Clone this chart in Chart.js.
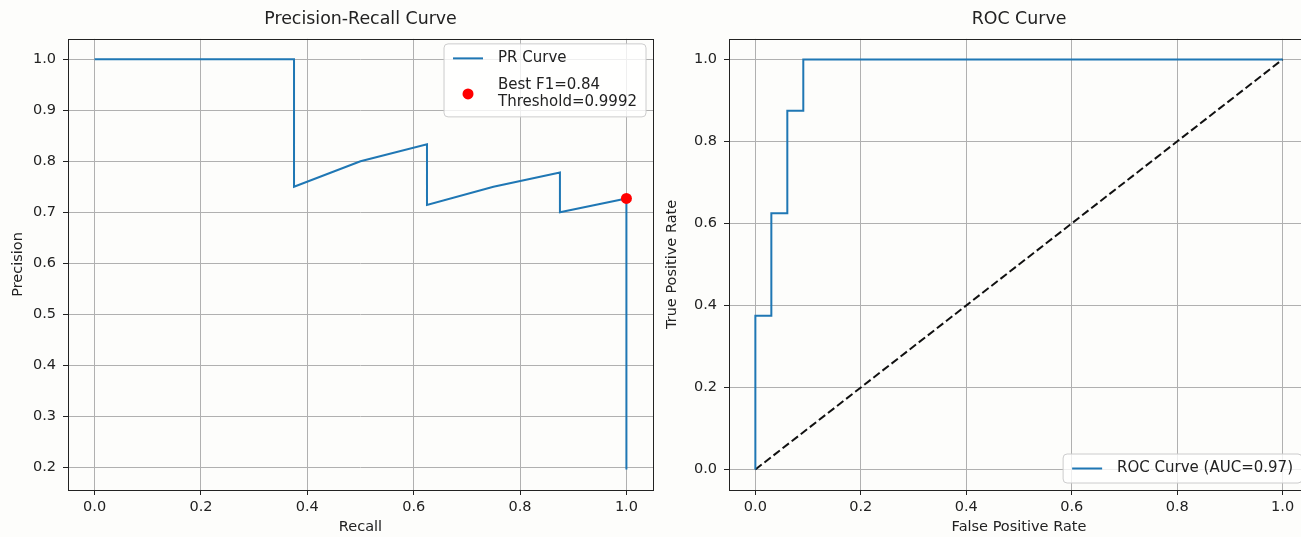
<!DOCTYPE html>
<html>
<head>
<meta charset="utf-8">
<script src="https://cdn.jsdelivr.net/npm/chart.js@4.4.1/dist/chart.umd.min.js"></script>
<style>
  html, body { margin: 0; padding: 0; background: #fdfdfb; overflow: hidden; width: 1301px; height: 537px; }
  canvas { position: absolute; top: 0; }
  #prChart { left: 0; }
  #rocChart { left: 660px; }
</style>
</head>
<body>
<canvas id="prChart" width="665" height="537"></canvas>
<canvas id="rocChart" width="655" height="537"></canvas>
<script>
// PR curve (recall, precision), in plotted order
const prRecall = [0, 0.125, 0.25, 0.375, 0.375, 0.5, 0.625, 0.625, 0.75, 0.875, 0.875, 1.0, 1.0]
const prPrecision = [1, 1, 1, 1, 0.75, 0.8, 0.833, 0.714, 0.75, 0.778, 0.7, 0.727, 0.195]
const bestRecall = [1.0]
const bestPrecision = [0.727]
const prXTicks = [0, 0.2, 0.4, 0.6, 0.8, 1.0]
const prYTicks = [0.2, 0.3, 0.4, 0.5, 0.6, 0.7, 0.8, 0.9, 1.0]

// ROC curve
const rocFpr = [0, 0, 0.0303, 0.0303, 0.0606, 0.0606, 0.0909, 0.0909, 1.0]
const rocTpr = [0, 0.375, 0.375, 0.625, 0.625, 0.875, 0.875, 1.0, 1.0]
const diagX = [0, 1]
const diagY = [0, 1]
const rocTicks = [0, 0.2, 0.4, 0.6, 0.8, 1.0]

const FONT = '"DejaVu Sans", sans-serif'
const blue = '#1f77b4'

const pts = (xs, ys) => xs.map((x, i) => ({x: x, y: ys[i]}))

// box around the plot area (matplotlib spines)
const frame = {
  id: 'frame',
  afterDatasetsDraw(chart) {
    const c = chart.ctx, a = chart.chartArea
    c.save()
    c.strokeStyle = '#222'
    c.lineWidth = 1
    c.strokeRect(Math.round(a.left) + 0.5, Math.round(a.top) + 0.5, Math.round(a.right - a.left), Math.round(a.bottom - a.top))
    c.restore()
  }
}

// legend drawn inside the plot, like matplotlib
const legendBox = {
  id: 'legendBox',
  afterDatasetsDraw(chart, args, opts) {
    const c = chart.ctx, a = chart.chartArea
    const items = chart.data.datasets.filter(d => d.label).map(d => ({
      lines: d.label.split('\n'), isLine: d.showLine, color: d.borderColor || d.backgroundColor, dash: d.borderDash
    }))
    c.save()
    c.font = '15px ' + FONT
    const lh = 17, gap = 10, pad = 6
    let w = 0, h = pad * 2
    items.forEach(it => {
      it.lines.forEach(t => { w = Math.max(w, c.measureText(t).width) })
      h += it.lines.length * lh
    })
    h += (items.length - 1) * gap
    const bw = 9 + 30 + 15 + w + 9
    const x = a.right - 7 - bw
    const y = opts.pos === 'top' ? a.top + 5 : a.bottom - 7 - h
    c.beginPath()
    c.roundRect(x, y, bw, h, 4)
    c.fillStyle = 'rgba(255,255,255,0.8)'
    c.fill()
    c.strokeStyle = '#cccccc'
    c.lineWidth = 1
    c.stroke()
    let cy = y + pad
    items.forEach(it => {
      const rh = it.lines.length * lh
      const mid = cy + rh / 2
      if (it.isLine) {
        c.beginPath()
        c.setLineDash(it.dash || [])
        c.strokeStyle = it.color
        c.lineWidth = 2
        c.moveTo(x + 9, mid)
        c.lineTo(x + 39, mid)
        c.stroke()
        c.setLineDash([])
      } else {
        c.beginPath()
        c.arc(x + 24, mid, 5.5, 0, Math.PI * 2)
        c.fillStyle = it.color
        c.fill()
      }
      c.fillStyle = '#222'
      c.textBaseline = 'middle'
      it.lines.forEach((t, i) => c.fillText(t, x + 54, cy + lh * i + lh / 2))
      cy += rh + gap
    })
    c.restore()
  }
}

function axis(min, max, ticks, title, fit, titlePad, tickPad) {
  const s = {
    type: 'linear',
    min: min,
    max: max,
    afterBuildTicks: sc => { sc.ticks = ticks.map(v => ({value: v})) },
    afterFit: fit,
    border: {display: false},
    grid: {color: '#b0b0b0', lineWidth: 1, tickColor: '#222', tickLength: 5, drawTicks: true},
    ticks: {
      color: '#222', font: {family: FONT, size: 14.5}, padding: tickPad,
      autoSkip: false, maxRotation: 0,
      callback: v => v.toFixed(1)
    },
    title: {display: true, text: title, color: '#222', font: {family: FONT, size: 14.5}, padding: titlePad}
  }
  return s
}

function baseOptions(titleText, legendPos) {
  return {
    responsive: false,
    animation: false,
    layout: {padding: {left: 0, right: 0, top: 0, bottom: 0}},
    plugins: {
      legend: {display: false},
      tooltip: {enabled: false},
      title: {
        display: true, text: titleText, fullSize: false, color: '#222',
        font: {family: FONT, size: 17.4, weight: 'normal'},
        padding: {top: 9, bottom: 9}
      },
      legendBox: {pos: legendPos}
    }
  }
}

const prOpts = baseOptions('Precision-Recall Curve', 'top')
prOpts.layout.padding.right = 12
prOpts.scales = {
  x: axis(-0.05, 1.05, prXTicks, 'Recall', s => { s.height = 47 }, {top: 0, bottom: 1}, 4),
  y: axis(0.155, 1.04, prYTicks, 'Precision', s => { s.width = 68 }, {top: 10, bottom: 0}, 7)
}

new Chart(document.getElementById('prChart'), {
  type: 'scatter',
  data: {
    datasets: [{
      label: 'PR Curve',
      data: pts(prRecall, prPrecision),
      showLine: true,
      borderColor: blue,
      borderWidth: 2,
      pointRadius: 0,
      order: 1
    }, {
      label: 'Best F1=0.84\nThreshold=0.9992',
      data: pts(bestRecall, bestPrecision),
      showLine: false,
      backgroundColor: 'red',
      borderWidth: 0,
      pointRadius: 5.5,
      order: 0
    }]
  },
  options: prOpts,
  plugins: [frame, legendBox]
})

const rocOpts = baseOptions('ROC Curve', 'bottom')
rocOpts.layout.padding.right = 6
rocOpts.scales = {
  x: axis(-0.05, 1.05, rocTicks, 'False Positive Rate', s => { s.height = 47 }, {top: 0, bottom: 1}, 4),
  y: axis(-0.05, 1.05, rocTicks, 'True Positive Rate', s => { s.width = 69 }, {top: 4, bottom: 0}, 7)
}

new Chart(document.getElementById('rocChart'), {
  type: 'scatter',
  data: {
    datasets: [{
      label: 'ROC Curve (AUC=0.97)',
      data: pts(rocFpr, rocTpr),
      showLine: true,
      borderColor: blue,
      borderWidth: 2,
      pointRadius: 0
    }, {
      data: pts(diagX, diagY),
      showLine: true,
      borderColor: '#111',
      borderWidth: 2,
      borderDash: [8, 3.5],
      pointRadius: 0
    }]
  },
  options: rocOpts,
  plugins: [frame, legendBox]
})
</script>
</body>
</html>
